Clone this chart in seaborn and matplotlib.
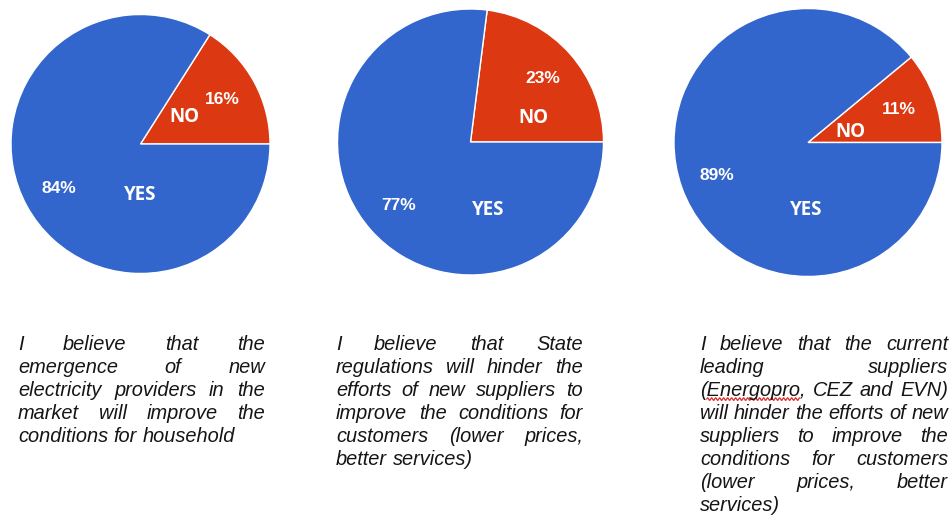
import matplotlib
matplotlib.use("Agg")
import matplotlib.pyplot as plt
from matplotlib.lines import Line2D
from matplotlib.transforms import IdentityTransform
import numpy as np
import seaborn as sns

# ---------------- data ----------------
categories = ["NO", "YES"]
no_pct = [16, 23, 11]
yes_pct = [84, 77, 89]

statements = [
    ["I believe that the",
     "emergence of new",
     "electricity providers in the",
     "market will improve the",
     "conditions for household"],
    ["I believe that State",
     "regulations will hinder the",
     "efforts of new suppliers to",
     "improve the conditions for",
     "customers (lower prices,",
     "better services)"],
    ["I believe that the current",
     "leading suppliers",
     "(Energopro, CEZ and EVN)",
     "will hinder the efforts of new",
     "suppliers to improve the",
     "conditions for customers",
     "(lower prices, better",
     "services)"],
]

# ---------------- layout (pixels) ----------------
W, H = 951, 515
pie_centers = [(140.5, 144.0), (470.5, 142.0), (808.0, 142.5)]
pie_radii = [129.5, 133.0, 134.0]
# category label offsets in radius units (NO, YES)
cat_label_pos = [
    [(0.342, 0.208), (-0.005, -0.39)],
    [(0.47, 0.183), (0.132, -0.514)],
    [(0.316, 0.078), (-0.012, -0.507)],
]
text_boxes = [(18, 265), (336, 583), (700, 948)]
text_top_baseline = 349.5
line_step = 23.05

sns.set_theme(style="white")
plt.rcParams["font.family"] = ["Liberation Sans", "DejaVu Sans"]
colors = sns.color_palette(["#DC3912", "#3366CC"])

fig = plt.figure(figsize=(W / 100, H / 100), dpi=100)
fig.patch.set_facecolor("white")

for i in range(3):
    cx, cy = pie_centers[i]
    r = pie_radii[i]
    ax = fig.add_axes([(cx - r) / W, (H - cy - r) / H, 2 * r / W, 2 * r / H])
    vals = [no_pct[i], yes_pct[i]]
    wedges, _, autotexts = ax.pie(
        vals, colors=colors, startangle=0, counterclock=True, radius=1,
        autopct=lambda p: f"{p:.0f}%", pctdistance=0.72,
        wedgeprops=dict(edgecolor="white", linewidth=1.0),
        textprops=dict(color="white", fontsize=12.5, fontweight="bold",
                       family=["Liberation Sans", "DejaVu Sans"]))
    for (lx, ly), name in zip(cat_label_pos[i], categories):
        ax.text(lx, ly, name, color="white", fontsize=13.5, fontweight="bold",
                family=["Open Sans", "DejaVu Sans"], ha="center", va="center")
    ax.set_xlim(-1, 1)
    ax.set_ylim(-1, 1)
    ax.set_axis_off()

# ---------------- justified captions ----------------
renderer = fig.canvas.get_renderer()
style = dict(fontsize=14.4, fontstyle="italic", color="#151515",
             family=["Liberation Sans", "DejaVu Sans"], va="baseline",
             ha="left", transform=IdentityTransform())


def width_of(s):
    t = fig.text(0, 0, s, **style)
    w = t.get_window_extent(renderer).width
    t.remove()
    return w


space_w = width_of("x x") - 2 * width_of("x")
word_positions = {}

for k, lines in enumerate(statements):
    xl, xr = text_boxes[k]
    for j, line in enumerate(lines):
        words = line.split()
        ybase = H - (text_top_baseline + j * line_step)
        widths = [width_of(w) for w in words]
        if j < len(lines) - 1 and len(words) > 1:
            gap = (xr - xl - sum(widths)) / (len(words) - 1)
        else:
            gap = space_w
        x = xl
        for wtxt, ww in zip(words, widths):
            fig.text(x, ybase, wtxt, **style)
            word_positions[(k, wtxt)] = (x, ybase)
            x += ww + gap

# spell-check squiggle under "Energopro"
x0, yb = word_positions[(2, "(Energopro,")]
xs0 = x0 + width_of("(")
xs1 = x0 + width_of("(Energopro")
xs = np.linspace(xs0, xs1, 200)
ys = yb - 3.5 + 1.3 * np.sin((xs - xs0) / 4.0 * 2 * np.pi)
fig.add_artist(Line2D(xs, ys, color="#e03030", lw=0.9,
                      transform=IdentityTransform()))

fig.savefig("out.png", dpi=100, facecolor="white")
